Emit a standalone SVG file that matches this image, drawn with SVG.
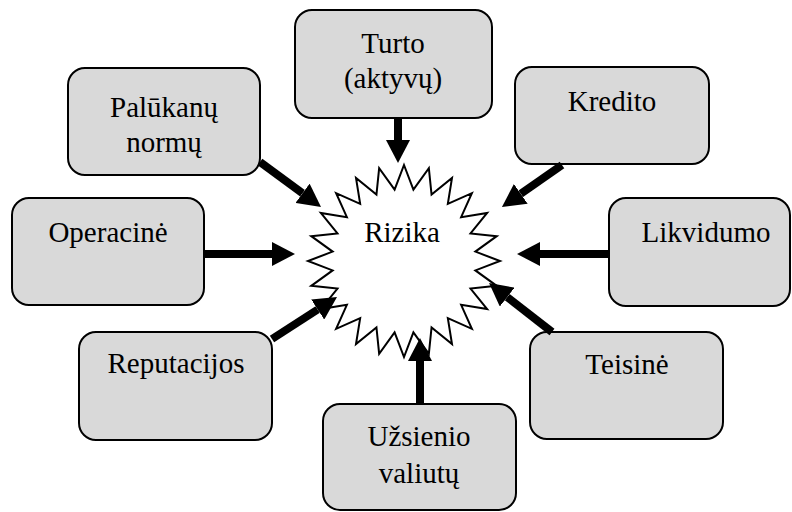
<svg xmlns="http://www.w3.org/2000/svg" width="792" height="512" viewBox="0 0 792 512">
  <defs>
    <marker id="head" markerUnits="userSpaceOnUse" markerWidth="24" markerHeight="24" viewBox="0 0 24 24" refX="0" refY="12" orient="auto">
      <path d="M0,0 L23,12 L0,24 Z" fill="#000"/>
    </marker>
  </defs>
  <rect width="792" height="512" fill="#fff"/>

  <g id="rizika">
    <polygon fill="#fff" stroke="#000" stroke-width="2" points="404,165 413.40,189.62 428.85,168.27 431.55,194.48 452,177.86 447.83,203.88 471.88,193.12 461.12,217.17 487.14,213 470.52,233.45 496.73,236.15 475.38,251.60 500,261 475.38,270.40 496.73,285.85 470.52,288.55 487.14,309 461.12,304.83 471.88,328.88 447.83,318.12 452,344.14 431.55,327.52 428.85,353.73 413.40,332.38 404,357 394.60,332.38 379.15,353.73 376.45,327.52 356,344.14 360.17,318.12 336.12,328.88 346.88,304.83 320.86,309 337.48,288.55 311.27,285.85 332.62,270.40 308,261 332.62,251.60 311.27,236.15 337.48,233.45 320.86,213 346.88,217.17 336.12,193.12 360.17,203.88 356,177.86 376.45,194.48 379.15,168.27 394.60,189.62"/>
    <text x="402" y="242" style="font-family:'Liberation Serif','Times New Roman',serif;font-size:29px" text-anchor="middle">Rizika</text>
  </g>

  <g fill="#d9d9d9" stroke="#000" stroke-width="2">
    <g id="palukanu"><rect x="68" y="68" width="192" height="107" rx="17"/></g>
    <g id="turto"><rect x="295" y="10" width="197" height="108" rx="17"/></g>
    <g id="kredito"><rect x="515" y="67" width="194" height="97" rx="17"/></g>
    <g id="operacine"><rect x="12" y="198" width="192" height="107" rx="17"/></g>
    <g id="likvidumo"><rect x="609" y="198" width="181" height="108" rx="17"/></g>
    <g id="reputacijos"><rect x="79" y="332" width="193" height="108" rx="17"/></g>
    <g id="teisine"><rect x="530" y="332" width="193" height="107" rx="17"/></g>
    <g id="uzsienio"><rect x="323" y="404" width="193" height="106" rx="17"/></g>
  </g>

  <g id="connectors" stroke="#000" stroke-width="8" fill="none" marker-end="url(#head)">
    <line x1="398" y1="118" x2="398" y2="140"/>
    <line x1="260" y1="162" x2="302.5" y2="193.3"/>
    <line x1="562" y1="165" x2="520.8" y2="193.8"/>
    <line x1="204" y1="254" x2="272" y2="254"/>
    <line x1="609" y1="254" x2="540" y2="254"/>
    <line x1="272" y1="339" x2="317.7" y2="309.5"/>
    <line x1="552" y1="332" x2="507.2" y2="297.1"/>
    <line x1="420" y1="404" x2="420" y2="361"/>
  </g>

  <g id="labels" fill="#000" text-anchor="middle" style="font-family:'Liberation Serif','Times New Roman',serif;font-size:29px">
    <text x="164" y="117">Palūkanų</text>
    <text x="164" y="152">normų</text>
    <text x="393" y="53">Turto</text>
    <text x="393" y="88">(aktyvų)</text>
    <text x="612" y="111">Kredito</text>
    <text x="108" y="242">Operacinė</text>
    <text x="706" y="242">Likvidumo</text>
    <text x="176" y="373">Reputacijos</text>
    <text x="627" y="374">Teisinė</text>
    <text x="419" y="446">Užsienio</text>
    <text x="419" y="483">valiutų</text>
  </g>
</svg>
